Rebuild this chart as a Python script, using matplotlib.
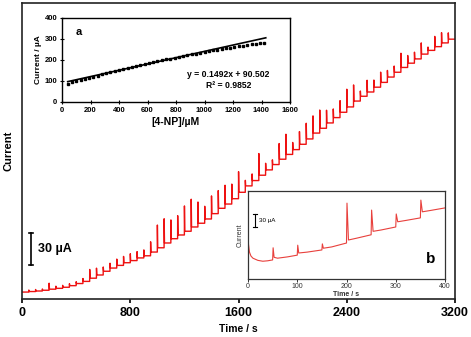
import matplotlib
matplotlib.use("Agg")
import matplotlib.pyplot as plt

plt.rcParams['font.family'] = ['Liberation Sans', 'DejaVu Sans']

# ---------------- main amperogram data ----------------
injection_interval = 50  # s
total_time = 3200
# current level (uA, arbitrary offset) after each injection; index 0 = before first injection
levels = [6.5, 7.0, 7.5, 8.2, 9.2, 10.0, 11.0, 12.5, 14.5, 16.5,
          19.5, 22.5, 26.0, 29.0, 31.5, 34.0, 36.0, 38.5, 40.5, 44.0,
          48.0, 52.5, 56.5, 60.0, 63.5, 67.5, 71.0, 75.0, 80.0, 85.0,
          89.0, 94.0, 100.0, 106.0, 111.0, 116.0, 121.0, 126.0, 131.0, 135.5,
          140.0, 145.0, 150.0, 155.5, 160.0, 165.0, 170.0, 175.0, 180.0, 185.5,
          190.0, 194.0, 198.5, 203.0, 208.0, 212.5, 217.0, 221.0, 225.0, 229.5,
          233.0, 236.5, 240.0, 243.5]
# transient spike height (uA) at each injection (t = 50, 100, ..., 3150)
spikes = [1.9, 1.9, 1.9, 6.6, 2.8, 2.8, 3.3, 3.7, 4.7, 11.2,
          9.4, 7.5, 7.5, 8.4, 8.4, 8.4, 8.4, 7.5, 13.1, 25.3,
          27.2, 21.6, 21.6, 27.2, 30.0, 23.4, 15.9, 21.6, 21.6, 21.6,
          18.7, 25.3, 11.2, 11.2, 25.3, 11.2, 9.4, 19.7, 23.4, 11.2,
          16.9, 19.7, 21.6, 21.6, 16.9, 13.1, 15.9, 21.6, 20.6, 9.4,
          15.0, 11.2, 14.1, 11.2, 10.3, 17.8, 11.2, 10.3, 15.0, 6.6,
          13.1, 13.1, 9.4]

# ---------------- inset a: calibration ----------------
conc = [40, 70, 100, 130, 160, 190, 220, 250, 280, 310, 340, 370, 400, 430, 460, 490,
        520, 550, 580, 610, 640, 670, 700, 730, 760, 790, 820, 850, 880, 910, 940, 970,
        1000, 1030, 1060, 1090, 1120, 1150, 1180, 1210, 1240, 1270, 1300, 1330, 1360, 1390, 1420]
resp = [87, 92.7, 98.3, 103.8, 109.3, 114.7, 120.1, 125.3, 130.6, 135.7, 140.8, 145.8, 150.8,
        155.7, 160.5, 165.3, 170.0, 174.7, 179.3, 183.8, 188.2, 192.6, 196.9, 201.2, 205.4,
        209.5, 213.6, 217.6, 221.6, 225.4, 229.2, 233.0, 236.7, 240.3, 243.9, 247.4, 250.8,
        254.2, 257.5, 260.7, 263.9, 267.0, 270.0, 273.0, 275.9, 278.8, 281.6]
fit_slope = 0.1492
fit_intercept = 90.502
fit_range = [40, 1430]

# ---------------- inset b: first 400 s ----------------
tb = [0, 1, 3, 6, 10, 20, 30, 40, 50, 51, 53, 60, 80, 100, 101, 103, 120, 150, 151, 153,
      170, 200, 201, 204, 220, 250, 251, 254, 270, 300, 301, 304, 320, 350, 351, 354, 370, 400]
ib = [97, 80, 62, 53, 48, 43, 41, 42, 44, 72, 50, 48, 51, 55, 78, 60, 62, 67, 81, 71,
      74, 83, 175, 90, 94, 102, 159, 110, 113, 120, 150, 132, 135, 141, 182, 155, 158, 164]

# build main trace
t_tr, i_tr = [0], [levels[0]]
for k in range(1, len(levels)):
    t0 = k * injection_interval
    t_tr += [t0, t0 + 0.5, t0 + 3]
    i_tr += [levels[k - 1], levels[k - 1] + spikes[k - 1], levels[k]]
t_tr.append(total_time)
i_tr.append(levels[-1])

W, H = 471, 337
fig = plt.figure(figsize=(W / 100, H / 100), dpi=100)

def rect(l, t, r, b):
    return [l / W, 1 - b / H, (r - l) / W, (b - t) / H]

ax = fig.add_axes(rect(22, 3, 455, 299))
ax.plot(t_tr, i_tr, color='#ee1111', lw=1.0)
ax.set_xlim(0, 3200)
ax.set_ylim(0, 277.4)
ax.set_xticks([0, 800, 1600, 2400, 3200])
ax.set_yticks([])
for lab in ax.get_xticklabels():
    lab.set_fontweight('bold')
ax.tick_params(axis='x', direction='out', length=3, width=1.2, pad=2.5, labelsize=9)
for s in ax.spines.values():
    s.set_linewidth(1.2)
    s.set_color('#222222')
ax.set_xlabel('Time / s', fontsize=7.5, fontweight='bold', labelpad=4)
ax.set_ylabel('Current', fontsize=8, fontweight='bold', labelpad=6)
# scale bar
ax.plot([66, 66], [32, 62], color='black', lw=1.2)
ax.plot([50, 82], [32, 32], color='black', lw=1.2)
ax.plot([50, 82], [62, 62], color='black', lw=1.2)
ax.text(118, 47, '30 µA', fontsize=9, fontweight='bold', va='center', ha='left')

# inset a
axa = fig.add_axes(rect(62, 17.5, 290, 102))
axa.plot(conc, resp, ls='none', marker='s', ms=1.8, color='black')
axa.plot(fit_range, [fit_slope * x + fit_intercept for x in fit_range], color='black', lw=1.2)
axa.set_xlim(0, 1600)
axa.set_ylim(0, 400)
axa.set_xticks(range(0, 1601, 200))
axa.set_yticks(range(0, 401, 100))
axa.tick_params(direction='inout', length=3, width=0.8, labelsize=5.5, pad=2)
for lab in axa.get_xticklabels() + axa.get_yticklabels():
    lab.set_fontweight('bold')
for s in axa.spines.values():
    s.set_linewidth(1.0)
axa.set_xlabel('[4-NP]/µM', fontsize=7.5, fontweight='bold', labelpad=2)
axa.set_ylabel('Current / µA', fontsize=6, fontweight='bold', labelpad=2)
axa.text(120, 330, 'a', fontsize=8, fontweight='bold', va='center', ha='center')
axa.text(1168, 106, 'y = 0.1492x + 90.502\nR² = 0.9852', fontsize=6.2, fontweight='bold',
         ha='center', va='center', linespacing=1.3)

# inset b
axb = fig.add_axes(rect(248, 191, 445, 279))
axb.plot(tb, ib, color='#e8403c', lw=0.8)
axb.set_xlim(0, 400)
axb.set_ylim(0, 203)
axb.set_xticks(range(0, 401, 100))
axb.set_yticks([])
axb.tick_params(axis='x', direction='out', length=2, width=0.7, labelsize=5, pad=1, colors='#333333')
for s in axb.spines.values():
    s.set_linewidth(0.9)
    s.set_color('#333333')
axb.set_xlabel('Time / s', fontsize=5, fontweight='bold', labelpad=0.5, color='#333333')
axb.set_ylabel('Current', fontsize=5, labelpad=3, color='#333333')
axb.plot([15, 15], [120, 150], color='black', lw=0.8)
axb.plot([11, 19], [120, 120], color='black', lw=0.8)
axb.plot([11, 19], [150, 150], color='black', lw=0.8)
axb.text(22, 135, '30 µA', fontsize=4.5, va='center', ha='left')
axb.text(370, 46, 'b', fontsize=11, fontweight='bold', va='center', ha='center')

fig.savefig('out.png', dpi=100)
